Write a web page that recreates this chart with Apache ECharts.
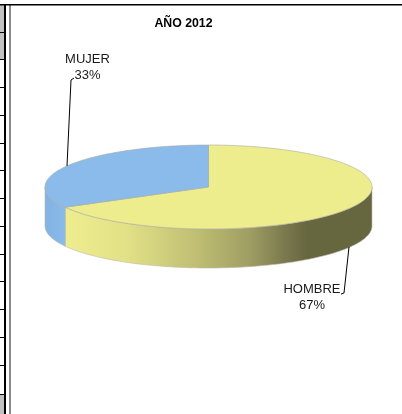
<!DOCTYPE html>
<html><head><meta charset="utf-8">
<style>html,body{margin:0;padding:0;background:#fff}#c{width:402px;height:414px}</style>
<script src="https://cdn.jsdelivr.net/npm/echarts@6/dist/echarts.min.js"></script>
</head><body><div id="c"></div>
<script>
var categories = ['HOMBRE', 'MUJER'];
var values = [67, 33];
var chartTitle = 'AÑO 2012';
var tableRows = [32, 59, 87, 115, 143, 170, 198, 226, 254, 281, 309, 337, 365, 394];

var cx = 208.5, cy = 187, rx = 163.5, ry = 42, depth = 39;
var total = values[0] + values[1];
var font = '"Liberation Sans", Arial, sans-serif';
var topColors = ['#EEED8E', '#8ABBEB'];
var sideStops = [
  [{offset:0,color:'#EEED8E'},{offset:.2,color:'#E2E187'},{offset:.44,color:'#BDBC72'},{offset:.6,color:'#9F9E63'},{offset:.73,color:'#76754C'},{offset:.79,color:'#66663F'},{offset:1,color:'#66663F'}],
  [{offset:0,color:'#82B2E2'},{offset:1,color:'#8ABBEB'}]
];
var labelBoxes = [
  {x:312,  y:281, leader:[[341,294],[344,293],[349,247]]},
  {x:87.5, y:51,  leader:[[74,78],[71,80],[67,166]]}
];

function rim(a, dy){ var t = a*Math.PI/180; return [cx+rx*Math.sin(t), cy-ry*Math.cos(t)+(dy||0)]; }
function arc(a1,a2,dy){ var p=[]; var n=Math.max(2,Math.ceil(Math.abs(a2-a1))); for(var i=0;i<=n;i++) p.push(rim(a1+(a2-a1)*i/n,dy)); return p; }

function renderItem(params, api){
  var i = params.dataIndex, start = 0;
  for (var k=0;k<i;k++) start += values[k];
  var a1 = start/total*360, a2 = (start+values[i])/total*360;
  var ch = [];
  var s1 = Math.max(a1,90), s2 = Math.min(a2,270);
  if (s2 > s1){
    var top = arc(s1,s2,0), bot = arc(s2,s1,depth);
    var xs = top.map(function(p){return p[0];});
    var x0 = Math.min.apply(null,xs), x1 = Math.max.apply(null,xs);
    ch.push({type:'polygon',shape:{points:top.concat(bot)},
      style:{fill:new echarts.graphic.LinearGradient(x0,0,x1,0,sideStops[i],true),stroke:'#B8B8B0',lineWidth:.6}});
  }
  var pts = [[cx,cy]].concat(arc(a1,a2,0));
  ch.push({type:'polygon',shape:{points:pts},style:{fill:topColors[i],stroke:'#A9A9A0',lineWidth:.6}});
  var b = labelBoxes[i];
  ch.push({type:'polyline',shape:{points:b.leader},style:{fill:null,stroke:'#000',lineWidth:1}});
  ch.push({type:'text',style:{x:b.x,y:b.y,text:categories[i]+'\n'+Math.round(values[i]/total*100)+'%',
    fill:'#1a1a1a',font:'13px '+font,align:'center',verticalAlign:'top',lineHeight:16}});
  return {type:'group',children:ch};
}

var deco = [
  {type:'rect',shape:{x:0,y:5,width:5,height:54},style:{fill:'#C0C0C0'}},
  {type:'rect',shape:{x:0,y:394,width:4,height:20},style:{fill:'#C0C0C0'}},
  {type:'rect',shape:{x:9,y:5,width:2,height:409},style:{fill:'#8a8a8a'}}
];
tableRows.forEach(function(y){ deco.push({type:'rect',shape:{x:0,y:y,width:5,height:1},style:{fill:'#000'}}); });
deco.push({type:'rect',shape:{x:0,y:4,width:402,height:1.5},style:{fill:'#000'}});
deco.push({type:'rect',shape:{x:4,y:4,width:2,height:410},style:{fill:'#000'}});

var chart = echarts.init(document.getElementById('c'),null,{renderer:'canvas'});
chart.setOption({
  animation:false,
  backgroundColor:'#fff',
  title:{text:chartTitle,left:178.5,top:13,textAlign:'center',
    textStyle:{fontFamily:font,fontSize:12.3,fontWeight:'bold',color:'#000'}},
  graphic:deco,
  series:[{type:'custom',coordinateSystem:'none',renderItem:renderItem,
    data:categories.map(function(c,i){return {name:c,value:values[i]};}),silent:true}]
});
</script></body></html>
